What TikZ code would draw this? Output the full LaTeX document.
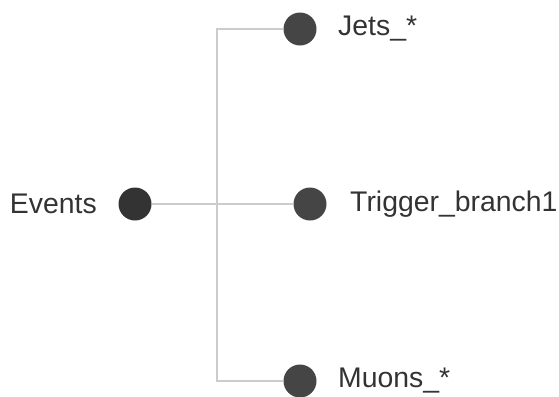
\documentclass[tikz,border=0pt]{standalone}
\usepackage{fontspec}
\setmainfont{Liberation Sans}
\pgfdeclarelayer{bg}
\pgfsetlayers{bg,main}
\begin{document}
\begin{tikzpicture}[x=1bp,y=-1bp,
  dot/.style={circle,fill=#1,draw=none,minimum size=33bp,inner sep=0pt},
  lbl/.style={text=black!80,font=\fontsize{28.5}{31}\selectfont,inner sep=0pt},
  conn/.style={draw=black!20,line width=2bp}]
\useasboundingbox (0,0) rectangle (559,396);
\clip (0,0) rectangle (559,396);
\coordinate (jt) at (217,29);
\coordinate (jb) at (217,381);
\node[dot=black!80] (ev) at (135,204) {};
\node[dot=black!73] (jets) at (300,29) {};
\node[dot=black!73] (trig) at (310,204) {};
\node[dot=black!73] (muons) at (300,381) {};
\begin{pgfonlayer}{bg}
\draw[conn] (ev) -- (trig);
\draw[conn] (jets) -- (jt) -- (jb) -- (muons);
\end{pgfonlayer}
\node[lbl,anchor=east] (tev) at (97,204) {Events};
\node[lbl,anchor=west] (tj) at (338,29) {Jets\_*};
\node[lbl,anchor=west] (tt) at (350,204) {Trigger\_branch1};
\node[lbl,anchor=west] (tm) at (338,381) {Muons\_*};
\end{tikzpicture}
\end{document}
